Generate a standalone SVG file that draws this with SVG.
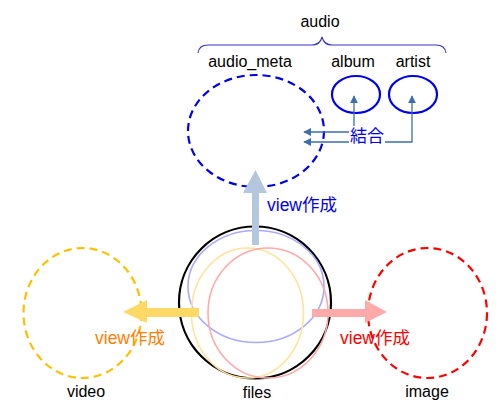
<svg xmlns="http://www.w3.org/2000/svg" width="501" height="416" viewBox="0 0 501 416">
<style>
text{font-family:"Liberation Sans","Noto Sans CJK JP",sans-serif;font-size:16px}
.lbl{fill:#000}
.vw{font-size:17.5px}
.dash{fill:none;stroke-width:2.2;stroke-dasharray:8 5}
.conn{fill:none;stroke:#3d6fae;stroke-width:1.3}
</style>
<defs>
<marker id="ah" viewBox="0 0 10 10" refX="9" refY="5" markerWidth="8" markerHeight="8" markerUnits="userSpaceOnUse" orient="auto-start-reverse">
<path d="M0,0 L10,5 L0,10 z" fill="#3d6fae"/>
</marker>
</defs>
<rect width="501" height="416" fill="#fff"/>

<g id="audio">
<text class="lbl" x="320" y="27" text-anchor="middle">audio</text>
<path d="M198,53 Q199,45 208,45 L312,45 Q320,45 322,37 Q324,45 332,45 L436,45 Q445,45 446,53" fill="none" stroke="#3333cc" stroke-width="1.1"/>
</g>
<g id="audio_meta">
<ellipse cx="256" cy="131" rx="68" ry="56" class="dash" stroke="#0000ee"/>
<text class="lbl" x="250" y="67" text-anchor="middle">audio_meta</text>
</g>
<g id="album">
<ellipse cx="356" cy="94.5" rx="24" ry="18.5" fill="none" stroke="#0000ee" stroke-width="2.2"/>
<text class="lbl" x="353" y="67" text-anchor="middle">album</text>
</g>
<g id="artist">
<ellipse cx="413" cy="94.5" rx="24" ry="18.5" fill="none" stroke="#0000ee" stroke-width="2.2"/>
<text class="lbl" x="413" y="67" text-anchor="middle">artist</text>
</g>

<g id="files">
<circle cx="255" cy="302.5" r="76" fill="#fff" stroke="#000" stroke-width="2.2"/>
<ellipse cx="256" cy="286.5" rx="68" ry="56" fill="none" stroke="#aaaaff" stroke-width="1.6"/>
<ellipse cx="247.5" cy="313" rx="56" ry="65" fill="none" stroke="#ffe49a" stroke-width="1.6"/>
<ellipse cx="268" cy="313" rx="60" ry="65" fill="none" stroke="#ffaaaa" stroke-width="1.6"/>
<text class="lbl" x="257" y="398" text-anchor="middle">files</text>
</g>

<g id="video">
<ellipse cx="82.5" cy="313" rx="59" ry="65" class="dash" stroke="#ffc000"/>
<text class="lbl" x="86" y="397" text-anchor="middle">video</text>
</g>
<g id="image">
<ellipse cx="427.5" cy="313" rx="59.5" ry="65" class="dash" stroke="#ff0000"/>
<text class="lbl" x="427" y="397" text-anchor="middle">image</text>
</g>

<g id="connectors">
<path d="M354,96 L354,132 L304,132" class="conn" marker-start="url(#ah)" marker-end="url(#ah)"/>
<path d="M412,96 L412,142 L304,142" class="conn" marker-start="url(#ah)" marker-end="url(#ah)"/>
<rect x="349" y="126" width="36" height="19" fill="#fff"/>
<text x="367" y="142" text-anchor="middle" fill="#0000ee" style="font-size:17px">結合</text>

<polygon points="252,245 259,245 259,193 267,193 255.5,170 243,193 252,193" fill="#b4c7dc"/>
<text class="vw" x="267" y="211" fill="#0000ee">view作成</text>

<polygon points="199,308 199,317 147,317 147,323 123,312 147,300 147,308" fill="#ffd966"/>
<text class="vw" x="95" y="344" fill="#ff8000">view作成</text>

<polygon points="312,309 312,317 365,317 365,323 387,312 365,300 365,309" fill="#ffaaaa"/>
<text class="vw" x="340" y="344" fill="#ff0000">view作成</text>
</g>
</svg>
